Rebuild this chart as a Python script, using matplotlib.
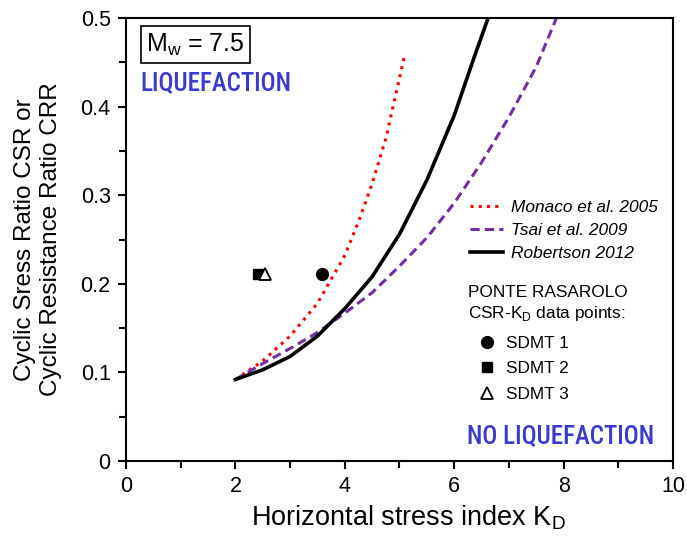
import matplotlib.pyplot as plt
from matplotlib.ticker import MultipleLocator

plt.rcParams['font.family'] = ['Liberation Sans', 'DejaVu Sans']

# CRR-KD correlations
kd_monaco = [2.0, 2.5, 3.0, 3.5, 4.0, 4.25, 4.5, 4.75, 5.0, 5.1]
crr_monaco = [0.092, 0.113, 0.141, 0.178, 0.232, 0.270, 0.313, 0.364, 0.432, 0.460]

kd_tsai = [2.0, 2.5, 3.0, 3.5, 4.0, 4.5, 5.0, 5.5, 6.0, 6.5, 7.0, 7.5, 7.87]
crr_tsai = [0.092, 0.110, 0.127, 0.145, 0.167, 0.190, 0.220, 0.252, 0.291, 0.337, 0.388, 0.445, 0.5]

kd_robertson = [2.0, 2.5, 3.0, 3.5, 4.0, 4.5, 5.0, 5.5, 6.0, 6.35, 6.62]
crr_robertson = [0.092, 0.103, 0.118, 0.141, 0.172, 0.208, 0.256, 0.317, 0.390, 0.453, 0.5]

# Ponte Rasarolo CSR-KD points
sdmt_names = ['SDMT 1', 'SDMT 2', 'SDMT 3']
sdmt_kd = [3.58, 2.42, 2.54]
sdmt_csr = [0.211, 0.211, 0.211]

blue = '#3a3acf'
purple = '#7030a0'
narrow = ['Roboto Condensed', 'Liberation Sans']

fig = plt.figure(figsize=(6.87, 5.36), dpi=100)
ax = fig.add_axes([0.1834, 0.1399, 0.7962, 0.8265])

l1, = ax.plot(kd_monaco, crr_monaco, color='red', linestyle=(0, (1, 1.7)), lw=2.2,
              label='Monaco et al. 2005')
l2, = ax.plot(kd_tsai, crr_tsai, color=purple, linestyle=(0, (3, 1.7)), lw=2.2,
              label='Tsai et al. 2009')
l3, = ax.plot(kd_robertson, crr_robertson, color='black', lw=2.6,
              label='Robertson 2012')

p1, = ax.plot(sdmt_kd[0], sdmt_csr[0], 'o', color='black', ms=8.5, label=sdmt_names[0], ls='none')
p2, = ax.plot(sdmt_kd[1], sdmt_csr[1], 's', color='black', ms=7, label=sdmt_names[1], ls='none')
p3, = ax.plot(sdmt_kd[2], sdmt_csr[2], '^', mfc='white', mec='black', mew=1.3, ms=8,
              label=sdmt_names[2], ls='none')

ax.set_xlim(0, 10)
ax.set_ylim(0, 0.5)
ax.xaxis.set_major_locator(MultipleLocator(2))
ax.xaxis.set_minor_locator(MultipleLocator(1))
ax.yaxis.set_major_locator(MultipleLocator(0.1))
ax.yaxis.set_minor_locator(MultipleLocator(0.05))
ax.yaxis.set_major_formatter(plt.FuncFormatter(lambda v, p: '0' if v == 0 else f'{v:.1f}'))
ax.tick_params(which='both', direction='out', width=1.5, labelsize=15.5)
ax.tick_params(which='major', length=6, pad=5)
ax.tick_params(which='minor', length=5)
for s in ax.spines.values():
    s.set_linewidth(1.5)

ax.set_xlabel('Horizontal stress index K$_\\mathregular{D}$', fontsize=19.5)
ax.xaxis.set_label_coords(0.516, -0.095)
ax.set_ylabel('Cyclic Sress Ratio CSR or\nCyclic Resistance Ratio CRR', fontsize=17.5,
              linespacing=1.25)
ax.yaxis.set_label_coords(-0.117, 0.5)

ax.text(0.037, 0.940, 'M$_\\mathregular{w}$ = 7.5', transform=ax.transAxes, fontsize=18,
        va='center', ha='left',
        bbox=dict(boxstyle='square,pad=0.2', fc='white', ec='black', lw=1.2))
ax.text(0.026, 0.854, 'LIQUEFACTION', transform=ax.transAxes, fontsize=18,
        color=blue, fontweight='medium', family=narrow, va='center', ha='left')
ax.text(0.966, 0.056, 'NO LIQUEFACTION', transform=ax.transAxes, fontsize=18,
        color=blue, fontweight='medium', family=narrow, va='center', ha='right')

leg1 = ax.legend(handles=[l1, l2, l3], loc='upper left', bbox_to_anchor=(0.616, 0.605),
                 frameon=False, fontsize=12.4, handlelength=1.9, handletextpad=0.5,
                 labelspacing=0.45, borderaxespad=0)
for t in leg1.get_texts():
    t.set_fontstyle('italic')
ax.add_artist(leg1)

ax.text(0.626, 0.354, 'PONTE RASAROLO\nCSR-K$_\\mathregular{D}$ data points:',
        transform=ax.transAxes, fontsize=12.4, va='center', ha='left', linespacing=1.3)

leg2 = ax.legend(handles=[p1, p2, p3], loc='upper left', bbox_to_anchor=(0.632, 0.298),
                 frameon=False, fontsize=12.4, handlelength=1.0, handletextpad=0.6,
                 labelspacing=0.6, borderaxespad=0)

fig.savefig('out.png', dpi=100)
